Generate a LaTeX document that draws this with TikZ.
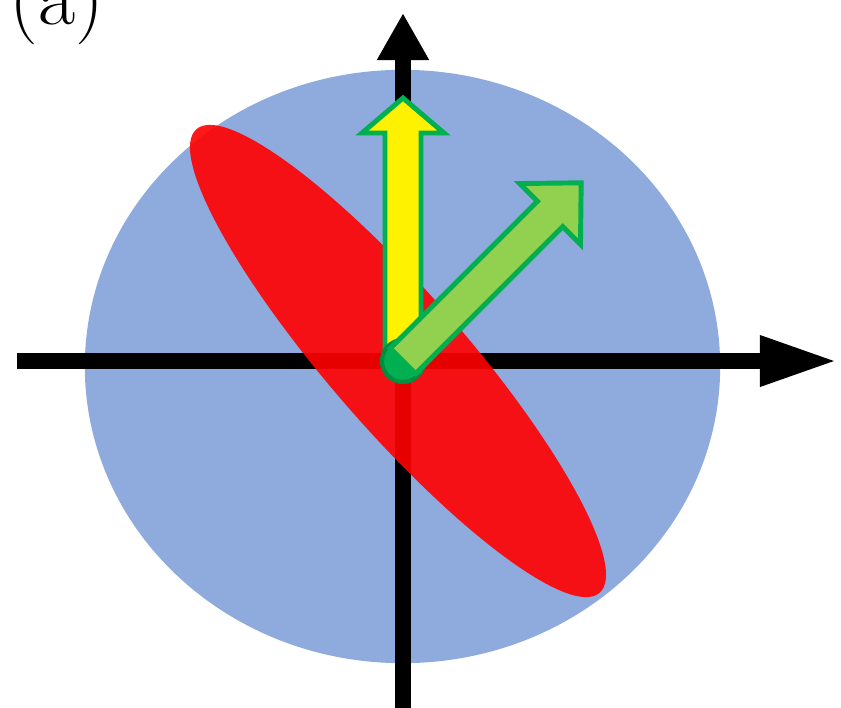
\documentclass[tikz,border=0pt]{standalone}
\usepackage{tikz}
\usetikzlibrary{arrows.meta}
\definecolor{discblue}{HTML}{8FAADC}
\definecolor{vecgreen}{HTML}{00B050}
\definecolor{lightgreen}{HTML}{92D050}

\begin{document}
\begin{tikzpicture}[x=0.01cm, y=-0.01cm,
  axis/.style={line width=4.3pt, black},
  vtip/.style={-{Triangle[length=13.4pt, width=13.9pt]}},
  htip/.style={-{Triangle[length=21.9pt, width=13.4pt]}},
  vec/.style={line width=1.4pt, draw=vecgreen, line join=miter},
  tagtext/.style={font=\fontsize{23}{27}\selectfont, anchor=base west, inner sep=0pt}
]
\useasboundingbox (0,0) rectangle (841,708);

% ── Frame points ──────────────────────
\coordinate (O)  at (403,361);
\coordinate (xl) at (17,361);
\coordinate (xr) at (837,361);
\coordinate (yb) at (403,720);
\coordinate (yt) at (403,13);

% ── Disc ──────────────────────────────
\fill[discblue] (402.5,366.5) ellipse [x radius=3.175cm, y radius=2.965cm];

% ── Axes ──────────────────────────────
\draw[axis, htip] (xl) -- (xr);
\draw[axis, vtip] (yb) -- (yt);

% ── Tilted ellipse ────────────────────
\fill[red, opacity=0.9, rotate around={-49:(398,361)}]
  (398,361) ellipse [x radius=3.07cm, y radius=0.68cm];

% ── Vectors ───────────────────────────
\begin{scope}[shift={(O)}]
  \draw[vec, fill=yellow] (-18,0) -- (-18,-228) -- (-41,-228) -- (0,-263)
    -- (41,-228) -- (18,-228) -- (18,0) -- cycle;
\end{scope}

\filldraw[fill=vecgreen, draw=vecgreen!80!black, line width=1.2pt]
  (O) circle [radius=0.21cm];

\begin{scope}[shift={(O)}, rotate=45]
  \draw[vec, fill=lightgreen] (0,-18) -- (208,-18) -- (208,-43) -- (252,0)
    -- (208,43) -- (208,18) -- (0,18) -- cycle;
\end{scope}

% ── Panel tag ─────────────────────────
\node[tagtext] (tag) at (9,24) {(a)};

\end{tikzpicture}
\end{document}
